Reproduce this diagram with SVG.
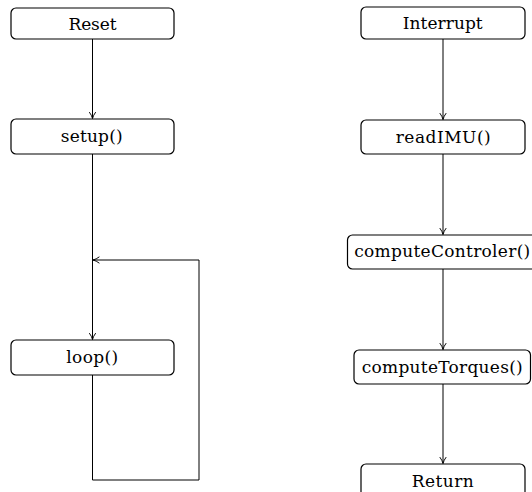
<svg xmlns="http://www.w3.org/2000/svg" width="532" height="492" viewBox="0 0 532 492">
<style>
.box{fill:#fff;stroke:#000;stroke-width:1.2}
.lbl{font-family:"DejaVu Serif","Liberation Serif",serif;font-size:17px;fill:#000;text-anchor:middle}
.edge{fill:none;stroke:#000;stroke-width:1}
</style>
<defs>
<marker id="arr" viewBox="0 0 10 10" refX="9" refY="5" markerWidth="8" markerHeight="8" markerUnits="userSpaceOnUse" orient="auto">
<path d="M1,1 Q5,4 9,5 Q5,6 1,9" fill="none" stroke="#000" stroke-width="1.2"/>
</marker>
</defs>
<rect width="532" height="492" fill="#fff"/>
<g id="connectors">
<line class="edge" x1="92.5" y1="39" x2="92.5" y2="118.5" marker-end="url(#arr)"/>
<line class="edge" x1="92.5" y1="154" x2="92.5" y2="339.5" marker-end="url(#arr)"/>
<polyline class="edge" points="92.5,375 92.5,480 199,480 199,260 93,260" marker-end="url(#arr)"/>
<line class="edge" x1="443" y1="39" x2="443" y2="119.5" marker-end="url(#arr)"/>
<line class="edge" x1="443" y1="154" x2="443" y2="234.5" marker-end="url(#arr)"/>
<line class="edge" x1="443" y1="269" x2="443" y2="349.5" marker-end="url(#arr)"/>
<line class="edge" x1="443" y1="384" x2="443" y2="463.5" marker-end="url(#arr)"/>
</g>
<g id="reset">
<rect class="box" x="11" y="8" width="163" height="31" rx="5"/>
<text class="lbl" x="92.5" y="29.5" textLength="48">Reset</text>
</g>
<g id="setup">
<rect class="box" x="11" y="119" width="163" height="35" rx="5"/>
<text class="lbl" x="91.7" y="141.7" textLength="62">setup()</text>
</g>
<g id="loop">
<rect class="box" x="11" y="340" width="163" height="35" rx="5"/>
<text class="lbl" x="92.2" y="363" textLength="52">loop()</text>
</g>
<g id="interrupt">
<rect class="box" x="361" y="7" width="164" height="32" rx="5"/>
<text class="lbl" x="442.7" y="29" textLength="80">Interrupt</text>
</g>
<g id="readIMU">
<rect class="box" x="361" y="120" width="164" height="34" rx="5"/>
<text class="lbl" x="443.2" y="142.7" textLength="95">readIMU()</text>
</g>
<g id="computeControler">
<rect class="box" x="347.5" y="235" width="190" height="34" rx="5"/>
<text class="lbl" x="442.2" y="256.7" textLength="176">computeControler()</text>
</g>
<g id="computeTorques">
<rect class="box" x="354" y="350" width="176.5" height="34" rx="5"/>
<text class="lbl" x="442.2" y="373.3" textLength="161">computeTorques()</text>
</g>
<g id="return">
<rect class="box" x="361" y="464" width="164" height="34" rx="5"/>
<text class="lbl" x="442.8" y="486.7" textLength="62">Return</text>
</g>
</svg>
